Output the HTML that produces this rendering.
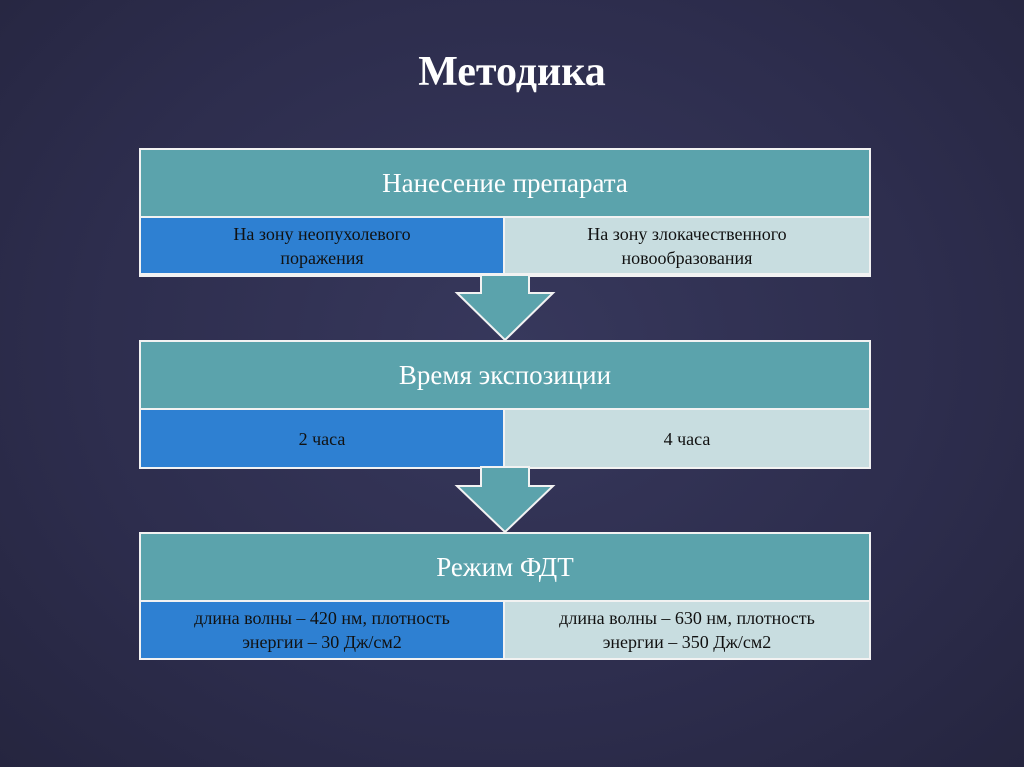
<!DOCTYPE html>
<html><head><meta charset="utf-8"><style>
body{margin:0;width:1024px;height:767px;overflow:hidden;background:radial-gradient(ellipse at 50% 45%,#37385c 0%,#2d2d4d 60%,#25253f 100%);font-family:"Liberation Serif","DejaVu Serif",serif;position:relative}
.t{position:absolute;left:0;width:1024px;top:48px;text-align:center;color:#fff;font-weight:bold;font-size:42px}
.box{position:absolute;left:139px;width:728px;border:2px solid #f2f2f2;background:#f2f2f2}
.h{position:absolute;left:0;top:0;width:728px;background:#5ba3ac;color:#fff;font-size:27px;display:flex;align-items:center;justify-content:center}
.l,.r{position:absolute;font-size:18px;color:#111;display:flex;align-items:center;justify-content:center;text-align:center;line-height:24px}
.l{left:0;width:362px;background:#2e80d2}
.r{left:364px;width:364px;background:#c8dde0}
svg{position:absolute;left:0;top:0}
</style></head><body>
<div class="t">Методика</div>
<div class="box" style="top:148px;height:125px">
<div class="h" style="height:66px">Нанесение препарата</div>
<div class="l" style="top:68px;height:55px">На зону неопухолевого<br>поражения</div>
<div class="r" style="top:68px;height:55px">На зону злокачественного<br>новообразования</div>
</div>
<div class="box" style="top:340px;height:125px">
<div class="h" style="height:66px">Время экспозиции</div>
<div class="l" style="top:68px;height:57px">2 часа</div>
<div class="r" style="top:68px;height:57px">4 часа</div>
</div>
<div class="box" style="top:532px;height:124px">
<div class="h" style="height:66px">Режим ФДТ</div>
<div class="l" style="top:68px;height:56px">длина волны – 420 нм, плотность<br>энергии – 30 Дж/см2</div>
<div class="r" style="top:68px;height:56px">длина волны – 630 нм, плотность<br>энергии – 350 Дж/см2</div>
</div>
<svg width="1024" height="767">
<polygon points="481,275 529,275 529,293 553,293 505,340 457,293 481,293" fill="#5ba3ac" stroke="#f2f2f2" stroke-width="2"/>
<polygon points="481,467 529,467 529,486 553,486 505,532 457,486 481,486" fill="#5ba3ac" stroke="#f2f2f2" stroke-width="2"/>
</svg>
</body></html>
